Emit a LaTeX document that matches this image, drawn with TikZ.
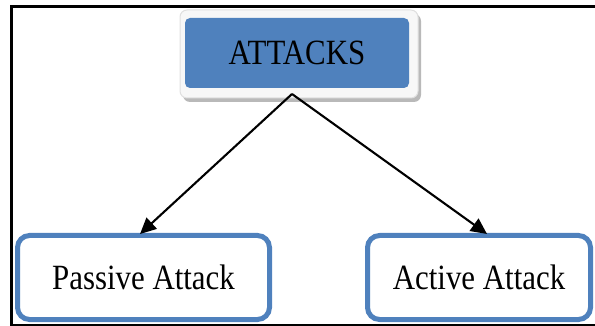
\documentclass[tikz,border=0pt]{standalone}
\usepackage{fontspec}
\setmainfont{Liberation Serif}
\usetikzlibrary{arrows.meta,shadows}
\definecolor{obl}{HTML}{4F81BD}
\newcommand{\tallt}[1]{\scalebox{0.87}[1]{\fontsize{35.5}{40}\selectfont #1}}
\tikzset{
  x=1pt,y=-1pt,
  leaf/.style={draw=obl,line width=5pt,rounded corners=12pt,fill=white,inner sep=0pt},
  arr/.style={line width=2.1pt,-{Triangle[length=16pt,width=15pt]}},
  frameline/.style={line width=3pt}
}
\begin{document}
\begin{tikzpicture}
\useasboundingbox (0,0) rectangle (595,326);
% outer frame
\draw[frameline] (595,7) -- (11.5,7) -- (11.5,325);
\draw[line width=1.5pt] (10,325) -- (595,325);
% ATTACKS
\node[draw=gray!25,fill=gray!6,line width=1pt,rounded corners=7pt,minimum width=238pt,minimum height=88pt,
      drop shadow={shadow xshift=3pt,shadow yshift=-4pt,fill=gray!55,opacity=1}] (frm) at (299,54) {};
\node[fill=obl,rounded corners=5pt,minimum width=224pt,minimum height=70pt,inner sep=0pt] (att) at (297,53) {\tallt{ATTACKS}};
% leaves
\node[leaf,minimum width=252pt,minimum height=84pt] (pas) at (143.5,277.5) {\tallt{Passive Attack}};
\node[leaf,minimum width=223pt,minimum height=84pt] (act) at (479,277.5) {\tallt{Active Attack}};
\coordinate (s) at (292,94);
\coordinate (pt) at (140,234);
\coordinate (at) at (487,234);
\draw[arr] (s) -- (pt);
\draw[arr] (s) -- (at);
\end{tikzpicture}
\end{document}
